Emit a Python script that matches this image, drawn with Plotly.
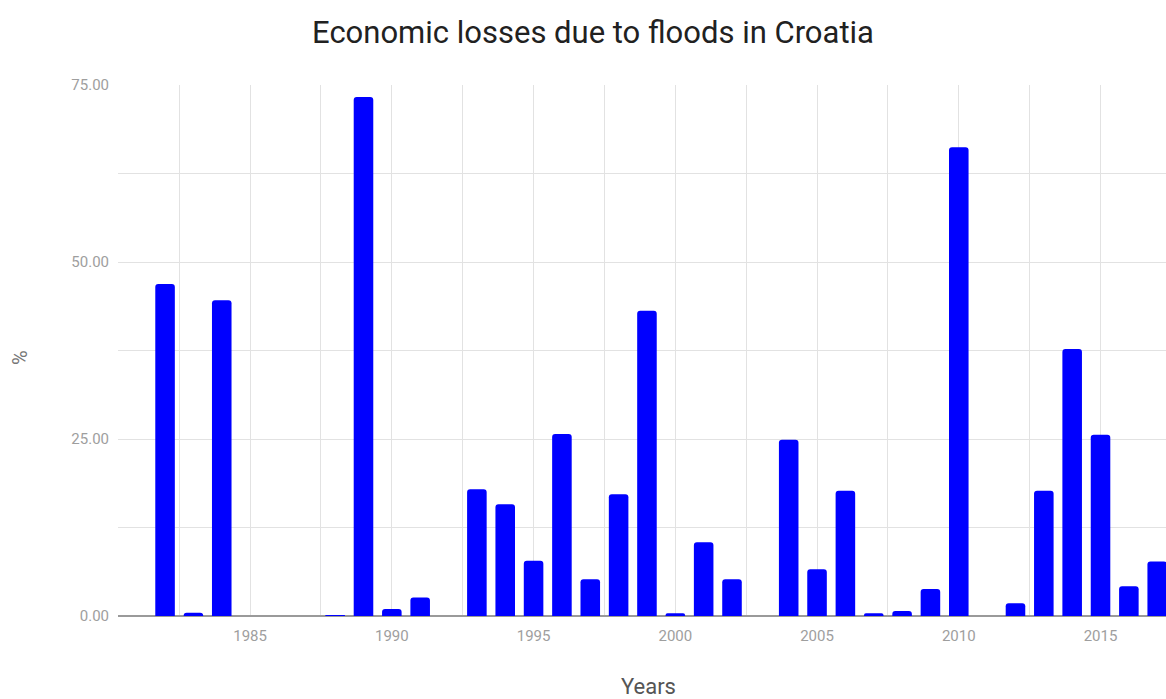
import plotly.graph_objects as go

years = [1982, 1983, 1984, 1988, 1989, 1990, 1991, 1993, 1994, 1995, 1996, 1997,
         1998, 1999, 2000, 2001, 2002, 2004, 2005, 2006, 2007, 2008, 2009, 2010,
         2012, 2013, 2014, 2015, 2016, 2017]
losses = [46.9, 0.45, 44.6, 0.1, 73.3, 1.0, 2.6, 17.9, 15.8, 7.8, 25.7, 5.2,
          17.2, 43.1, 0.4, 10.4, 5.2, 24.9, 6.6, 17.7, 0.4, 0.7, 3.8, 66.2,
          1.8, 17.7, 37.7, 25.6, 4.2, 7.7]

x_ticks = [1985, 1990, 1995, 2000, 2005, 2010, 2015]
y_ticks = [0, 25, 50, 75]

fig = go.Figure()
fig.add_trace(go.Bar(
    x=years, y=losses, width=0.69,
    marker=dict(color="#0000ff", line=dict(width=0)),
))

grid = "#e2e2e2"
tickfont = dict(family="Roboto", size=15, color="#9e9e9e")

W, H = 1166, 699
L, R, T, B = 118, 0, 85, 83
PW, PH = W - L - R, H - T - B

fig.update_layout(
    width=W, height=H,
    margin=dict(l=L, r=R, t=T, b=B),
    paper_bgcolor="white", plot_bgcolor="white",
    barcornerradius=3,
    showlegend=False,
    title=dict(text="Economic losses due to floods in Croatia",
               font=dict(family="Roboto", size=31, color="#212121"),
               x=593 / W, xref="container", xanchor="center",
               y=1 - 32 / H, yref="container", yanchor="middle"),
    xaxis=dict(
        range=[1980.34, 2017.31],
        tickvals=x_ticks, ticktext=[str(v) for v in x_ticks],
        tickfont=tickfont,
        showgrid=True, gridcolor=grid, gridwidth=1,
        minor=dict(dtick=2.5, tick0=1982.5, showgrid=True, gridcolor=grid, gridwidth=1),
        ticks="outside", ticklen=6, tickcolor="rgba(0,0,0,0)",
        zeroline=False, showline=False,
    ),
    yaxis=dict(
        range=[0, 75],
        tickvals=y_ticks, ticktext=["%.2f" % v for v in y_ticks],
        tickfont=tickfont,
        showgrid=True, gridcolor=grid, gridwidth=1,
        minor=dict(dtick=12.5, tick0=0, showgrid=True, gridcolor=grid, gridwidth=1),
        ticks="outside", ticklen=5, tickcolor="rgba(0,0,0,0)",
        zeroline=True, zerolinecolor="#9a9a9a", zerolinewidth=2,
    ),
    annotations=[
        dict(text="Years", xref="paper", yref="paper",
             x=(648 - L) / PW, y=0, xanchor="center", yanchor="middle",
             yshift=-(686 - (T + PH)), showarrow=False,
             font=dict(family="Roboto", size=22, color="#555555")),
        dict(text="%", xref="paper", yref="paper",
             x=0, y=1 - (358 - T) / PH, xanchor="center", yanchor="middle",
             xshift=-(L - 20), textangle=-90, showarrow=False,
             font=dict(family="Roboto", size=20, color="#777777")),
    ],
)

fig.write_html(
    "out.html",
    config={"displayModeBar": False},
    post_script="document.body.style.margin='0';document.body.style.overflow='hidden';",
)
